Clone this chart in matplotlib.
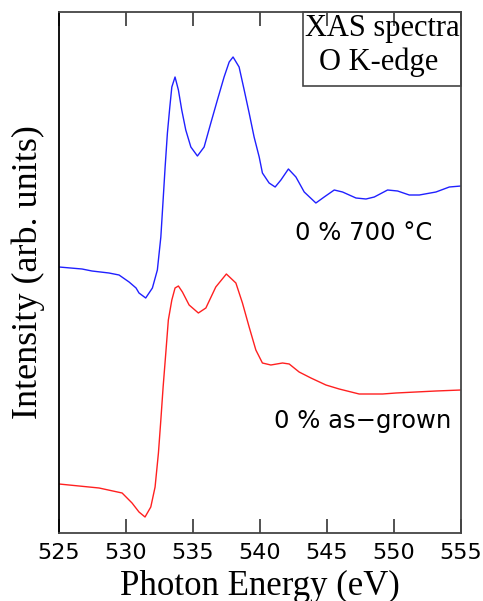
import matplotlib
matplotlib.use("Agg")
import matplotlib.pyplot as plt
from matplotlib.patches import Rectangle

# photon energy (eV) and intensity (arb. units)
energy_700 = [525.00, 526.72, 527.46, 528.73, 529.48, 530.23, 530.75, 530.97, 531.47,
              531.97, 532.34, 532.60, 532.77, 532.92, 533.09, 533.27, 533.42, 533.66,
              533.91, 534.16, 534.46, 534.84, 535.33, 535.83, 536.33, 536.82, 537.32,
              537.70, 537.99, 538.44, 538.82, 539.19, 539.56, 539.94, 540.18, 540.68,
              541.13, 541.56, 542.12, 542.68, 543.30, 544.17, 544.79, 545.54, 546.16,
              547.16, 547.91, 548.53, 549.52, 550.27, 551.14, 551.89, 553.13, 554.13,
              555.00]
inten_700 = [266, 264, 262, 260, 258, 251, 245, 240, 235,
             245, 263, 296, 333, 366, 400, 426, 446, 456,
             443, 423, 403, 386, 377, 386, 410, 433, 456,
             471, 476, 466, 443, 420, 396, 376, 360, 350,
             346, 353, 364, 356, 341, 330, 336, 343, 341,
             335, 334, 336, 343, 342, 338, 338, 341, 346,
             347]

energy_asg = [525.00, 527.99, 529.71, 530.45, 530.97, 531.42, 531.85, 532.17, 532.42,
              532.60, 532.77, 532.97, 533.16, 533.42, 533.66, 533.91, 534.21, 534.71,
              535.40, 535.96, 536.70, 537.49, 538.20, 538.69, 539.19, 539.69, 540.18,
              540.81, 541.68, 542.18, 542.92, 543.80, 544.92, 545.91, 547.40, 549.15,
              550.15, 551.64, 553.13, 555.00]
inten_asg = [49, 45, 40, 30, 21, 16, 26, 46, 80,
             113, 146, 180, 213, 233, 245, 247, 241, 228,
             220, 225, 246, 259, 250, 230, 206, 183, 170,
             168, 170, 169, 161, 155, 148, 144, 139, 139,
             140, 141, 142, 143]

xticks = [525, 530, 535, 540, 545, 550, 555]
spine_col = "#444444"

fig = plt.figure(figsize=(4.83, 6.01), dpi=100)
ax = fig.add_axes([59 / 483, 68 / 601, 402 / 483, 521 / 601])

ax.plot(energy_700, inten_700, color="#2020ff", lw=1.0)
ax.plot(energy_asg, inten_asg, color="#ff2020", lw=1.0)

ax.set_xlim(525, 555)
ax.set_ylim(0, 521)
ax.set_xticks(xticks)
ax.set_xticklabels([str(t) for t in xticks], family="DejaVu Sans", fontsize=16)
ax.set_yticks([])
ax.tick_params(axis="x", direction="in", top=True, length=10, width=1.3,
               color=spine_col, pad=7)

for s in ax.spines.values():
    s.set_color(spine_col)
    s.set_linewidth(1.3)
ax.spines["left"].set_color("black")

ax.set_xlabel("Photon Energy (eV)", family="Liberation Serif", fontsize=25, labelpad=5)
ax.set_ylabel("Intensity (arb. units)", family="Liberation Serif", fontsize=26, labelpad=10)

# legend box in the top right corner
ax.add_patch(Rectangle((0.607, 0.858), 0.393, 0.142, transform=ax.transAxes,
                       fill=False, edgecolor=spine_col, lw=1.2, clip_on=False))
ax.text(0.804, 0.954, "XAS spectra", transform=ax.transAxes, ha="center",
        va="baseline", family="Liberation Serif", fontsize=22)
ax.text(0.795, 0.889, "O K-edge", transform=ax.transAxes, ha="center",
        va="baseline", family="Liberation Serif", fontsize=22)

ax.text(542.58, 293, "0 % 700 \u00b0C", ha="left", va="baseline",
        family="DejaVu Sans", fontsize=17.5)
ax.text(541.08, 105, "0 % as\u2212grown", ha="left", va="baseline",
        family="DejaVu Sans", fontsize=17.5)

fig.savefig("out.png", dpi=100)
